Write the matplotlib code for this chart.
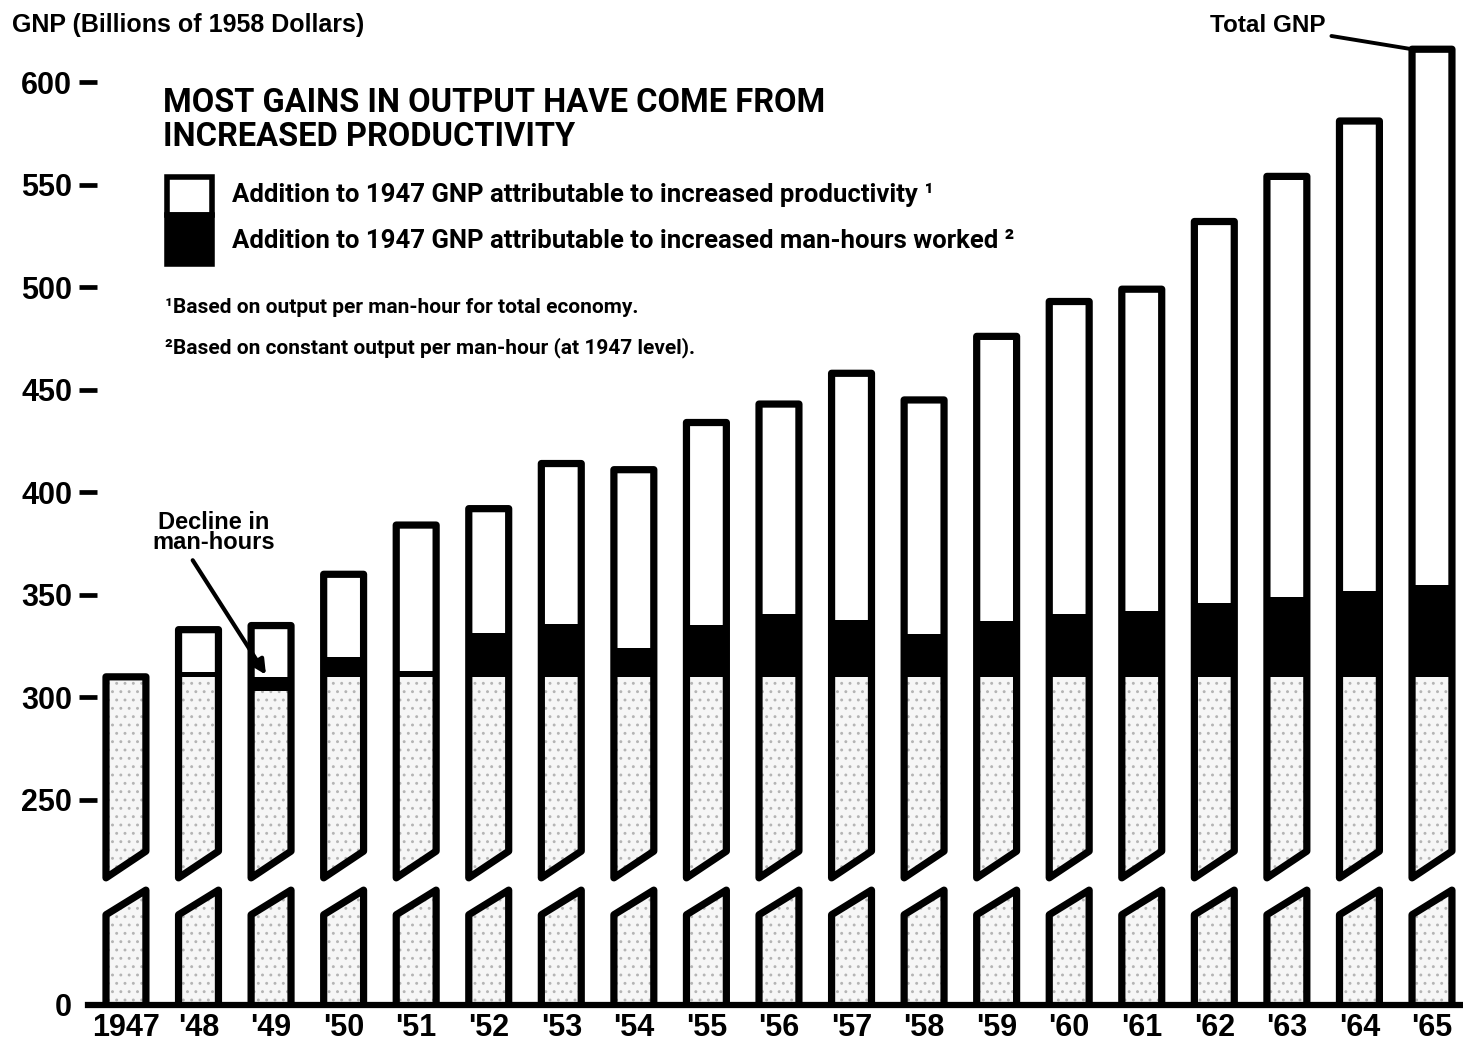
import numpy as np
import matplotlib
matplotlib.use("Agg")
import matplotlib.pyplot as plt
from matplotlib.patches import Polygon, Rectangle

# GNP in billions of 1958 dollars
years = ["1947", "'48", "'49", "'50", "'51", "'52", "'53", "'54", "'55", "'56",
         "'57", "'58", "'59", "'60", "'61", "'62", "'63", "'64", "'65"]
base_gnp = 310  # 1947 level
total_gnp = [310, 333, 335, 360, 384, 392, 414, 411, 434, 443,
             458, 445, 476, 493, 499, 532, 554, 581, 616]
# change from 1947 GNP due to man-hours worked (negative = decline)
manhours_gain = [0, 2.5, -7, 9.5, 3, 21.5, 26, 14, 25.5, 30.5,
                 27.5, 21, 27, 30.5, 32, 36, 39, 42, 45]
yticks = [0, 250, 300, 350, 400, 450, 500, 550, 600]

W, H = 1463, 1045
NARROW = ["Roboto", "DejaVu Sans"]
SANS = ["Liberation Sans", "DejaVu Sans"]
plt.rcParams["hatch.linewidth"] = 0.9


# squeeze everything below 250 so the 0 baseline sits just under the break
def fwd(v):
    v = np.asarray(v, dtype=float)
    return np.where(v < 250, 150 + v * 0.4, v)


def inv(d):
    d = np.asarray(d, dtype=float)
    return np.where(d < 250, (d - 150) / 0.4, d)


fig = plt.figure(figsize=(W / 100, H / 100), dpi=100)
ax = fig.add_axes([88 / W, 1 - 1005 / H, (1460 - 88) / W, 1005 / H])
ax.set_yscale("function", functions=(fwd, inv))
ax.set_ylim(0, 640)
x = np.arange(len(years))
ax.set_xlim(-0.523, len(years) - 1 + 0.386)

bw = 0.55
lw = 5.2
stub_l, stub_r = 194, 206     # slanted top of the lower stub (scaled units)
upper_l, upper_r = 212, 225   # slanted bottom of the upper piece

for i, (tot, mh) in enumerate(zip(total_gnp, manhours_gain)):
    x0, x1 = i - bw / 2, i + bw / 2
    stip_top = base_gnp + min(mh, 0)
    ax.bar(i, stip_top, width=bw, color="#f6f6f6", edgecolor="#b4b4b4",
           linewidth=0, hatch="..", zorder=1)
    if mh != 0:
        ax.bar(i, abs(mh), bottom=min(base_gnp, base_gnp + mh), width=bw,
               color="black", linewidth=0, zorder=2)
    top_fill = max(base_gnp, base_gnp + mh)
    ax.bar(i, tot - top_fill, bottom=top_fill, width=bw, color="white",
           linewidth=0, zorder=2)

    # white gap for the broken scale
    gap = [(x0 - 0.02, inv(stub_l - 0.5)), (x1 + 0.02, inv(stub_r + 0.5)),
           (x1 + 0.02, inv(upper_r + 0.5)), (x0 - 0.02, inv(upper_l - 0.5))]
    ax.add_patch(Polygon(gap, closed=True, facecolor="white", edgecolor="none", zorder=3))

    # outlines
    stub = [(x0, 0), (x0, inv(stub_l)), (x1, inv(stub_r)), (x1, 0)]
    ax.add_patch(Polygon(stub, closed=False, fill=False, edgecolor="black",
                         linewidth=lw, joinstyle="round", zorder=4))
    upper = [(x0, inv(upper_l)), (x0, tot), (x1, tot), (x1, inv(upper_r))]
    ax.add_patch(Polygon(upper, closed=True, fill=False, edgecolor="black",
                         linewidth=lw, joinstyle="round", zorder=4))

for s in ["top", "right", "left"]:
    ax.spines[s].set_visible(False)
ax.spines["bottom"].set_linewidth(4.5)
ax.spines["bottom"].set_zorder(5)

ax.set_yticks(yticks)
ax.set_yticklabels([str(t) for t in yticks], fontfamily=SANS, fontweight="bold",
                   fontsize=22)
ax.tick_params(axis="y", direction="inout", length=13, width=3.4, pad=5)
ax.yaxis.get_major_ticks()[0].tick1line.set_visible(False)

ax.set_xticks(x)
ax.set_xticklabels(years, fontfamily=SANS, fontweight="bold", fontsize=22)
ax.tick_params(axis="x", length=0, pad=6)

# annotations
ax.annotate("Total GNP", xy=(len(years) - 1 - bw / 2, total_gnp[-1]),
            xytext=(-62, 17), textcoords="offset points", ha="right", va="center",
            fontfamily=SANS, fontweight="bold", fontsize=17.5,
            arrowprops=dict(arrowstyle="-", lw=2.8, color="black",
                            shrinkA=2, shrinkB=0))
ax.annotate("Decline in\nman-hours", xy=(2 - 0.07, base_gnp + 1),
            xytext=(-38, 87), textcoords="offset points", ha="center", va="bottom",
            fontfamily=SANS, fontweight="bold", fontsize=17, linespacing=0.85,
            arrowprops=dict(arrowstyle="-|>,head_length=0.5,head_width=0.25",
                            lw=3, color="black", shrinkA=3, shrinkB=0,
                            relpos=(0.3, 0)),
            zorder=6)

# headings and legend
fig.text(12 / W, 1 - 25 / H, "GNP (Billions of 1958 Dollars)", fontfamily=SANS,
         fontweight="bold", fontsize=18, va="center")
fig.text(163 / W, 1 - 87 / H, "MOST GAINS IN OUTPUT HAVE COME FROM\nINCREASED PRODUCTIVITY",
         fontfamily=NARROW, fontweight="bold", fontsize=23.5, va="top", linespacing=1.08)

fig.add_artist(Rectangle((167 / W, 1 - 215 / H), 45 / W, 38 / H, transform=fig.transFigure,
                         facecolor="white", edgecolor="black", linewidth=4))
fig.add_artist(Rectangle((167 / W, 1 - 264 / H), 45 / W, 49 / H, transform=fig.transFigure,
                         facecolor="black", edgecolor="black", linewidth=4))
fig.text(232 / W, 1 - 195 / H,
         "Addition to 1947 GNP attributable to increased productivity ¹",
         fontfamily=NARROW, fontweight="bold", fontsize=18.5, va="center")
fig.text(232 / W, 1 - 241 / H,
         "Addition to 1947 GNP attributable to increased man-hours worked ²",
         fontfamily=NARROW, fontweight="bold", fontsize=18.5, va="center")
fig.text(165 / W, 1 - 307 / H, "¹Based on output per man-hour for total economy.",
         fontfamily=NARROW, fontweight="bold", fontsize=15, va="center")
fig.text(165 / W, 1 - 348 / H, "²Based on constant output per man-hour (at 1947 level).",
         fontfamily=NARROW, fontweight="bold", fontsize=15, va="center")

fig.savefig("out.png", dpi=100)
